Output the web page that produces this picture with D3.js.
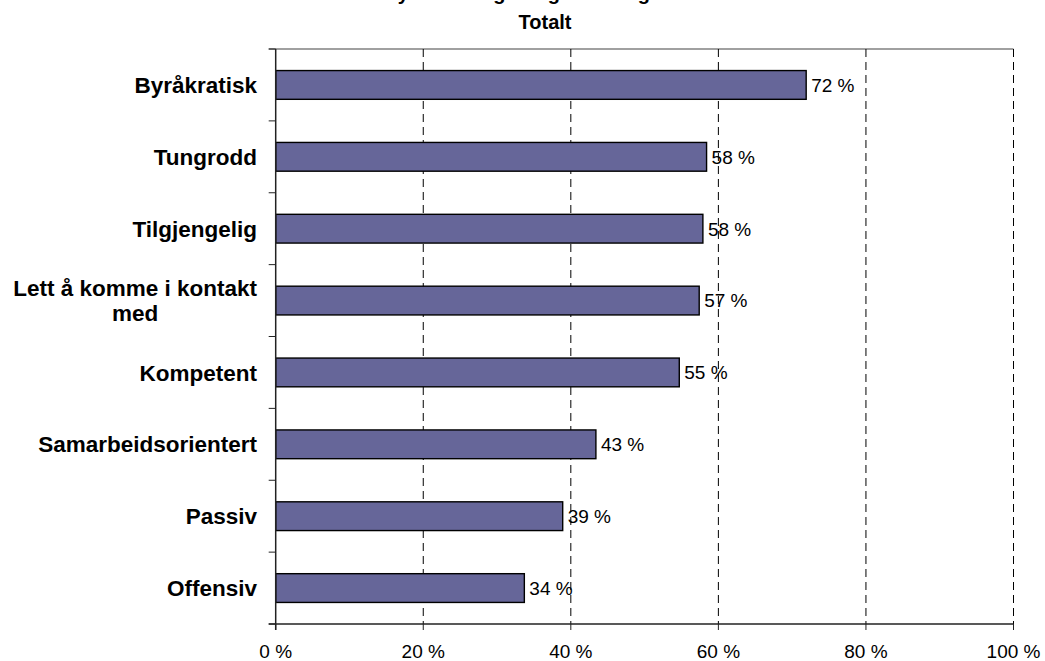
<!DOCTYPE html>
<html>
<head>
<meta charset="utf-8">
<script src="https://cdn.jsdelivr.net/npm/d3@7"></script>
<style>
  html, body { margin: 0; padding: 0; background: #fff; }
  svg { display: block; font-family: Arial, "Liberation Sans", sans-serif; }
</style>
</head>
<body>
<svg id="chart" width="1045" height="661"></svg>
<script>
const titleLines = ["Inntrykk av en god og fri dialog med oss", "Totalt"];
const categories = ["Byråkratisk", "Tungrodd", "Tilgjengelig", "Lett å komme i kontakt med",
                    "Kompetent", "Samarbeidsorientert", "Passiv", "Offensiv"];
const values = [71.9, 58.4, 57.9, 57.4, 54.7, 43.4, 38.9, 33.7];
const xTicks = [0, 20, 40, 60, 80, 100];

(function () {
const svg = d3.select("#chart");
const pL = 275.7, pR = 1013.5, pT = 49, pB = 624;
const catFont = 22.5;

const x = d3.scaleLinear().domain([0, 100]).range([pL, pR]);
const y = d3.scaleBand().domain(categories).range([pT, pB])
  .paddingInner(0.6).paddingOuter(0.3);

// title (first line is cut off at the top edge, as in the reference)
svg.append("text").attr("x", 545).attr("y", 0).attr("text-anchor", "middle")
  .attr("font-size", 20).attr("font-weight", "bold").text(titleLines[0]);
svg.append("text").attr("x", 545).attr("y", 29).attr("text-anchor", "middle")
  .attr("font-size", 20).attr("font-weight", "bold").text(titleLines[1]);

// top border (gray)
svg.append("line").attr("x1", pL - 7).attr("x2", pR).attr("y1", pT).attr("y2", pT)
  .attr("stroke", "#808080").attr("stroke-width", 1.5);

// gridlines
svg.append("g").selectAll("line").data(xTicks.filter(d => d > 0)).join("line")
  .attr("x1", d => x(d)).attr("x2", d => x(d)).attr("y1", pT).attr("y2", pB)
  .attr("stroke", "#000").attr("stroke-width", 1).attr("stroke-dasharray", "8,5");

// bars
svg.append("g").selectAll("rect").data(categories).join("rect")
  .attr("x", x(0)).attr("y", d => y(d))
  .attr("width", (d, i) => x(values[i]) - x(0)).attr("height", y.bandwidth())
  .attr("fill", "#666699").attr("stroke", "#000").attr("stroke-width", 1.4);

// value labels
svg.append("g").selectAll("text").data(categories).join("text")
  .attr("x", (d, i) => x(values[i]) + 5).attr("y", d => y(d) + y.bandwidth() / 2)
  .attr("dy", "0.36em").attr("font-size", 19).attr("fill", "#000")
  .text((d, i) => Math.round(values[i]) + " %");

// y axis
const yAxis = svg.append("g");
yAxis.append("line").attr("x1", pL).attr("x2", pL).attr("y1", pT).attr("y2", pB + 6)
  .attr("stroke", "#222").attr("stroke-width", 1.5);
const yTickPos = d3.range(categories.length + 1).map(i => pT + i * y.step());
yAxis.selectAll("line.tick").data(yTickPos).join("line").attr("class", "tick")
  .attr("x1", pL - 7).attr("x2", pL).attr("y1", d => d).attr("y2", d => d)
  .attr("stroke", "#222").attr("stroke-width", 1);

// x axis
const xAxis = svg.append("g");
xAxis.append("line").attr("x1", pL - 7).attr("x2", pR).attr("y1", pB).attr("y2", pB)
  .attr("stroke", "#222").attr("stroke-width", 1.5);
xAxis.selectAll("line.tick").data(xTicks).join("line").attr("class", "tick")
  .attr("x1", d => x(d)).attr("x2", d => x(d)).attr("y1", pB).attr("y2", pB + 6)
  .attr("stroke", "#222").attr("stroke-width", 1);
xAxis.selectAll("text").data(xTicks).join("text")
  .attr("x", d => x(d)).attr("y", 658).attr("text-anchor", "middle")
  .attr("font-size", 19).text(d => d + " %");

// category labels
const catG = svg.append("g");
categories.forEach(c => {
  const cy = y(c) + y.bandwidth() / 2;
  const labelRight = 257;
  if (c === "Lett å komme i kontakt med") {
    const lines = ["Lett å komme i kontakt", "med"];
    const t1 = catG.append("text").attr("font-size", catFont).attr("font-weight", "bold")
      .attr("text-anchor", "end").attr("x", labelRight).attr("y", cy - 12.5).attr("dy", "0.36em").text(lines[0]);
    const w = t1.node().getComputedTextLength();
    catG.append("text").attr("font-size", catFont).attr("font-weight", "bold")
      .attr("text-anchor", "middle").attr("x", labelRight - w / 2).attr("y", cy + 12.5).attr("dy", "0.36em").text(lines[1]);
  } else {
    catG.append("text").attr("font-size", catFont).attr("font-weight", "bold")
      .attr("text-anchor", "end").attr("x", labelRight).attr("y", cy).attr("dy", "0.36em").text(c);
  }
});
})();
</script>
</body>
</html>
